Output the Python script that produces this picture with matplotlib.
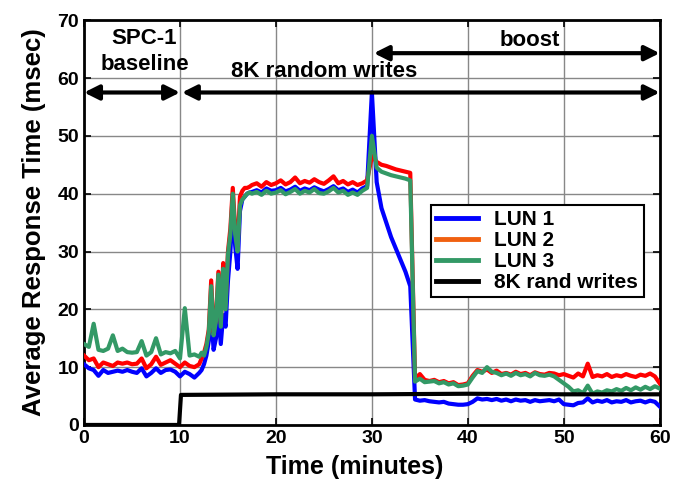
import numpy as np
import matplotlib.pyplot as plt
from matplotlib.lines import Line2D

plt.rcParams['font.family'] = ['Liberation Sans', 'DejaVu Sans']
plt.rcParams['font.weight'] = 'bold'

# time axis (minutes) - finer sampling during the ramp-up
tiempo = np.concatenate([np.arange(0, 12, 0.5), np.arange(12, 17.5, 0.25), np.arange(17.5, 60.01, 0.5)])

lun1 = [10.5, 9.8, 9.5, 8.5, 9.5, 9.0, 9.2, 9.4, 9.2, 9.5, 9.2, 9.0, 9.8, 8.4, 9.0, 9.8, 9.0, 9.5, 9.6, 9.2,
        8.4, 9.2, 8.8, 8.2,
        9.0, 9.5, 10.5, 12.0, 14.5, 20.0, 13.0, 15.0, 20.0, 14.0, 19.0, 17.0, 25.0, 30.0, 38.0, 31.0, 27.0, 37.0,
        39.0, 39.5, 40.0, 40.2,
        40.3, 40.6, 40.2, 40.9, 40.5, 40.6, 41.0, 40.4, 40.7, 41.2, 40.5, 40.9, 40.6, 41.1, 40.7, 40.4, 40.8, 41.3,
        40.6, 40.9, 40.3, 40.7, 40.2, 40.9, 41.3,
        57.5, 42.0, 37.5, 35.0, 32.5, 30.5, 28.5, 26.5, 24.0,
        4.4, 4.2, 4.3, 4.1, 4.0, 3.9, 4.0, 3.7, 3.6, 3.5, 3.5, 3.6, 4.0, 4.6, 4.4, 4.5, 4.3, 4.5, 4.2, 4.4,
        4.1, 4.4, 4.2, 4.3, 4.0, 4.3, 4.1, 4.2, 4.3, 4.1, 4.4, 3.6, 3.5, 3.4, 3.8, 3.9, 4.6, 3.9, 4.2, 4.0,
        4.3, 3.9, 4.1, 4.0, 4.3, 3.9, 4.1, 4.2, 3.9, 4.2, 4.0, 3.2]

lun2 = [12.0, 11.2, 11.5, 10.0, 10.8, 10.5, 10.2, 10.8, 10.6, 10.8, 10.5, 10.6, 11.5, 9.8, 10.5, 11.8, 10.4, 10.8,
        11.2, 10.6, 10.0, 10.8, 10.2, 10.0,
        10.5, 11.5, 12.5, 14.0, 16.5, 25.0, 16.0, 18.5, 26.5, 17.5, 28.0, 21.0, 30.0, 34.0, 41.0, 34.0, 31.0, 39.5,
        40.5, 41.0, 41.0, 41.2,
        41.5, 41.8, 41.2, 42.0, 41.5, 41.8, 42.3, 41.6, 42.0, 42.8, 41.8, 42.2, 41.9, 42.5, 42.0, 41.7, 42.3, 43.0,
        41.8, 42.2, 41.6, 42.0, 41.5, 41.8, 42.3,
        46.5, 45.5, 45.0, 44.8, 44.5, 44.2, 44.0, 43.8, 43.6,
        8.0, 8.8, 7.8, 7.6, 7.8, 7.4, 7.6, 7.2, 7.4, 6.9, 7.0, 7.2, 8.5, 9.5, 9.2, 9.6, 9.0, 9.4, 8.8, 9.0,
        8.7, 9.2, 8.8, 9.0, 8.6, 9.1, 8.8, 8.7, 9.0, 8.9, 8.6, 8.8, 8.5, 8.2, 8.9, 8.4, 10.6, 8.3, 8.6, 8.4,
        8.8, 8.3, 8.6, 8.4, 8.8, 8.5, 8.3, 8.7, 8.5, 8.9, 8.4, 7.2]

lun3 = [14.0, 13.5, 17.5, 13.0, 12.8, 13.2, 15.5, 12.8, 13.2, 12.6, 12.5, 12.6, 14.5, 12.0, 12.6, 15.0, 12.2, 12.6,
        12.4, 12.8, 11.5, 20.2, 12.0, 12.2,
        11.8, 12.5, 12.0, 13.5, 16.0, 24.0, 15.5, 18.0, 26.0, 17.0, 27.0, 20.0, 29.5, 33.0, 40.0, 33.0, 30.0, 38.0,
        39.0, 39.5, 40.0, 40.2,
        40.0, 40.3, 39.8, 40.5, 40.0, 40.2, 40.6, 39.9, 40.3, 40.8, 40.0, 40.5, 40.2, 40.8, 40.1, 40.0, 40.4, 41.0,
        40.2, 40.5, 39.8, 40.2, 39.8, 40.5, 41.0,
        50.0, 44.5, 43.8, 43.5, 43.2, 43.0, 42.8, 42.6, 42.3,
        7.5, 8.0, 7.4, 7.5, 7.6, 7.2, 7.4, 7.0, 7.2, 6.7, 6.8, 7.0, 8.2, 9.3, 9.0, 10.0, 9.2, 9.0, 8.6, 8.9,
        8.5, 9.0, 8.6, 8.8, 8.4, 9.0, 8.6, 8.5, 8.7, 8.4, 7.8, 7.2, 6.6, 5.8, 6.0, 5.5, 6.8, 5.4, 5.8, 5.6,
        6.0, 5.8, 6.2, 5.9, 6.4, 6.0, 6.5, 6.1, 6.6, 6.2, 6.7, 6.3]

# offered 8K random write load
tiempoCarga = [0, 9.9, 10.1, 20, 30, 40, 50, 60]
carga8k = [0, 0, 5.2, 5.3, 5.3, 5.4, 5.3, 5.3]

fig = plt.figure(figsize=(6.78, 4.93), dpi=100)
ax = fig.add_axes([0.124, 0.138, 0.849, 0.821])

ax.plot(tiempo, lun1, color='#0000FF', lw=3, zorder=3)
ax.plot(tiempo, lun2, color='#FF0000', lw=3, zorder=4)
ax.plot(tiempo, lun3, color='#339966', lw=3, zorder=5)
ax.plot(tiempoCarga, carga8k, color='black', lw=3, zorder=6)

ax.set_xlim(0, 60)
ax.set_ylim(0, 70)
ax.set_xticks(range(0, 61, 10))
ax.set_yticks(range(0, 71, 10))
ax.grid(True, color='#888888', lw=1)
ax.tick_params(direction='in', top=True, right=True, labelsize=14, length=5, width=1.2)
for s in ax.spines.values():
    s.set_linewidth(2)

ax.set_xlabel('Time (minutes)', fontsize=18, fontweight='bold', labelpad=6)
ax.xaxis.set_label_coords(0.47, -0.075)
ax.set_ylabel('Average Response Time (msec)', fontsize=18.5, fontweight='bold', labelpad=8)

# double-headed arrows for phases
flecha = dict(arrowstyle='<|-|>', color='black', lw=3, mutation_scale=22, shrinkA=0, shrinkB=0)
ax.annotate('', xy=(0, 57.5), xytext=(10, 57.5), arrowprops=flecha)
ax.annotate('', xy=(10.2, 57.5), xytext=(60, 57.5), arrowprops=flecha)
ax.annotate('', xy=(30.2, 64.3), xytext=(60, 64.3), arrowprops=flecha)

ax.text(6.3, 66.8, 'SPC-1', ha='center', va='center', fontsize=16, fontweight='bold')
ax.text(6.3, 62.3, 'baseline', ha='center', va='center', fontsize=16, fontweight='bold')
ax.text(25.0, 61.1, '8K random writes', ha='center', va='center', fontsize=16, fontweight='bold')
ax.text(46.5, 66.5, 'boost', ha='center', va='center', fontsize=16, fontweight='bold')

handles = [Line2D([], [], color='#0000FF', lw=3.5),
           Line2D([], [], color='#F06010', lw=3.5),
           Line2D([], [], color='#339966', lw=3.5),
           Line2D([], [], color='black', lw=3.5)]
leg = ax.legend(handles, ['LUN 1', 'LUN 2', 'LUN 3', '8K rand writes'], loc='upper right',
                bbox_to_anchor=(0.99, 0.57), prop={'weight': 'bold', 'size': 15},
                frameon=True, fancybox=False, edgecolor='black', framealpha=1,
                handlelength=2.0, labelspacing=0.1, borderpad=0.25, handletextpad=0.8)
leg.get_frame().set_linewidth(1.5)
leg.set_zorder(10)

plt.savefig('out.png', dpi=100)
